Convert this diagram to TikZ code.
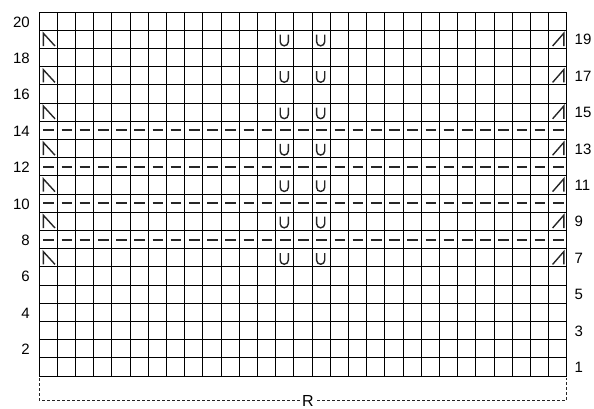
\documentclass[tikz,border=0pt]{standalone}
\usepackage{fontspec}
\setmainfont{Liberation Sans}
\begin{document}
\begin{tikzpicture}[x=1pt,y=-1pt,
  gridline/.style={line width=1pt,black},
  sym/.style={line width=1.4pt,black!85,line cap=butt,line join=miter},
  dashmark/.style={line width=2pt,black!85},
  lbl/.style={font=\fontsize{15}{15}\selectfont,inner sep=0pt},
  bracket/.style={line width=0.9pt,dash pattern=on 3pt off 2pt,black!85}]
\useasboundingbox (0,0) rectangle (594,408);
\def\L{39}\def\T{12}\def\W{18.2}
% grid
\foreach \i in {0,...,29}{
  \draw[gridline] ({\L+\i*\W},\T) -- ({\L+\i*\W},{\T+20*\W});
}
\foreach \j in {0,...,20}{
  \draw[gridline] (\L,{\T+\j*\W}) -- ({\L+29*\W},{\T+\j*\W});
}
% dashed rows 8,10,12,14
\foreach \r in {8,10,12,14}{
  \foreach \c in {0,...,28}{
    \draw[dashmark] ({\L+\c*\W+4.3},{\T+(20-\r+0.5)*\W}) -- ({\L+\c*\W+15},{\T+(20-\r+0.5)*\W});
  }
}
% symbols on odd rows 7..19
\foreach \r in {7,9,...,19}{
  \pgfmathsetmacro{\yt}{\T+(20-\r)*\W}
  % left edge symbol
  \draw[sym] ({\L+4.3},{\yt+15.8}) -- ({\L+4.3},{\yt+3}) -- ({\L+16},{\yt+15.8});
  % right edge symbol
  \draw[sym] ({\L+28*\W+4},{\yt+15.8}) -- ({\L+28*\W+15.2},{\yt+3}) -- ({\L+28*\W+15.2},{\yt+15.8});
  % U marks in columns 14 and 16
  \foreach \c in {13,15}{
    \draw[sym] ({\L+\c*\W+4.6},{\yt+4.5}) -- ({\L+\c*\W+4.6},{\yt+11.6})
      arc[start angle=180,end angle=0,radius=4.05] -- ({\L+\c*\W+12.7},{\yt+4.5});
  }
}
% row numbers
\foreach \r in {2,4,...,20}{
  \node[lbl,anchor=east] (l\r) at (30,{\T+(20-\r+0.5)*\W+0.8}) {\r};
}
\foreach \r in {1,3,...,19}{
  \node[lbl,anchor=west] (r\r) at (574.5,{\T+(20-\r+0.5)*\W+0.5}) {\r};
}
% repeat bracket
\coordinate (bl) at (\L,378);
\coordinate (br) at ({\L+29*\W},378);
\draw[bracket] (bl) -- (\L,400) -- ({\L+29*\W},400) -- (br);
\node[lbl,font=\fontsize{16}{16}\selectfont,fill=white,inner xsep=2pt,inner ysep=1pt] (rep) at (308,400.5) {R};
\end{tikzpicture}
\end{document}
